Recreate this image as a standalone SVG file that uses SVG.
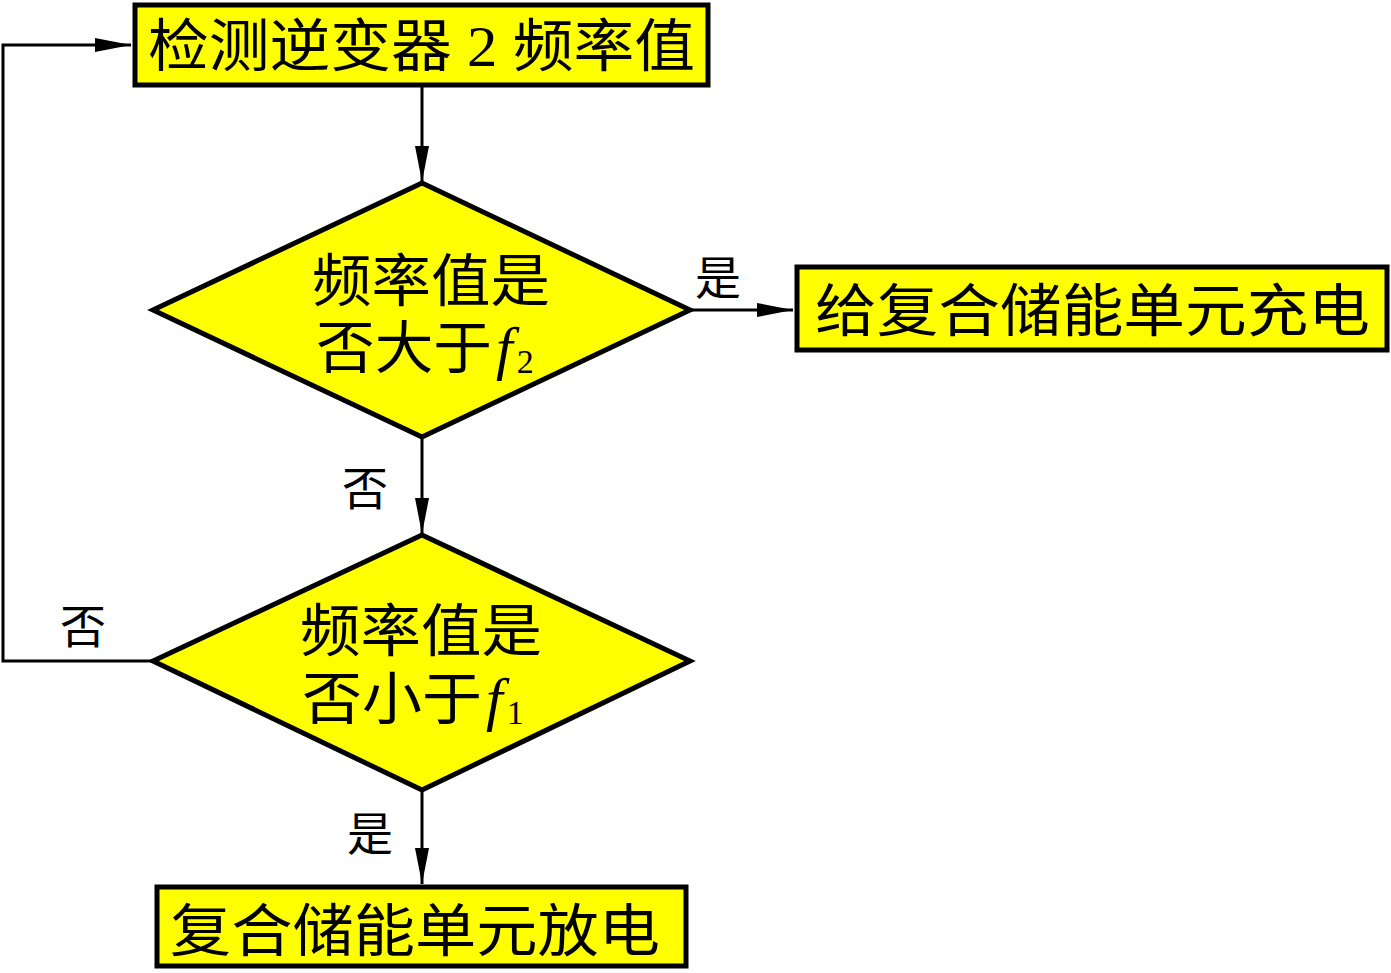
<svg xmlns="http://www.w3.org/2000/svg" width="1391" height="973" viewBox="0 0 1391 973">
<defs>
<style>
.box{fill:#ffff00;stroke:#000;stroke-width:5}
.dia{fill:#ffff00;stroke:#000;stroke-width:5;stroke-linejoin:miter}
.t{font-family:"Liberation Serif","Noto Sans CJK SC",serif;font-size:57px;fill:#000}
.lbl{font-family:"Liberation Serif","Noto Sans CJK SC",serif;font-size:46px;fill:#000}
.it{font-family:"Liberation Serif",serif;font-style:italic;font-size:60px}
.sub{font-family:"Liberation Serif",serif;font-size:34px}
.ln{fill:none;stroke:#000;stroke-width:3}
</style>
<marker id="ahv" markerWidth="36" markerHeight="14" refX="36" refY="7" orient="auto" markerUnits="userSpaceOnUse">
<path d="M0,0 L36,7 L0,14 Z" fill="#000"/>
</marker>
</defs>
<g id="connectors">
<path class="ln" d="M422,87 V182" marker-end="url(#ahv)"/>
<path class="ln" d="M422,437 V534" marker-end="url(#ahv)"/>
<path class="ln" d="M422,790 V884" marker-end="url(#ahv)"/>
<path class="ln" d="M690,310 H793" marker-end="url(#ahv)"/>
<path class="ln" d="M153,661 H3 V45 H131" marker-end="url(#ahv)"/>
<text class="lbl" x="718" y="294" text-anchor="middle">是</text>
<text class="lbl" x="365" y="505" text-anchor="middle">否</text>
<text class="lbl" x="83" y="643" text-anchor="middle">否</text>
<text class="lbl" x="370" y="850" text-anchor="middle">是</text>
</g>
<g id="start">
<rect class="box" x="135" y="5" width="573" height="80"/>
<text class="t" x="148" y="66" textLength="547" lengthAdjust="spacingAndGlyphs">检测逆变器 2 频率值</text>
</g>
<g id="decision1">
<polygon class="dia" points="422,183 690,310 422,437 153,310"/>
<text class="t" x="312" y="301" textLength="238" lengthAdjust="spacingAndGlyphs">频率值是</text>
<text class="t" x="316" y="368" textLength="176" lengthAdjust="spacingAndGlyphs">否大于</text>
<text x="496" y="368"><tspan class="it">f</tspan><tspan class="sub" dx="4" dy="5">2</tspan></text>
</g>
<g id="charge">
<rect class="box" x="797" y="267" width="590" height="83"/>
<text class="t" x="815" y="331" textLength="555" lengthAdjust="spacingAndGlyphs">给复合储能单元充电</text>
</g>
<g id="decision2">
<polygon class="dia" points="422,535 690,661 422,790 153,661"/>
<text class="t" x="300" y="651" textLength="242" lengthAdjust="spacingAndGlyphs">频率值是</text>
<text class="t" x="302" y="719" textLength="180" lengthAdjust="spacingAndGlyphs">否小于</text>
<text x="486" y="719"><tspan class="it">f</tspan><tspan class="sub" dx="4" dy="5">1</tspan></text>
</g>
<g id="discharge">
<rect class="box" x="157" y="887" width="529" height="79"/>
<text class="t" x="170" y="951" textLength="490" lengthAdjust="spacingAndGlyphs">复合储能单元放电</text>
</g>
</svg>
